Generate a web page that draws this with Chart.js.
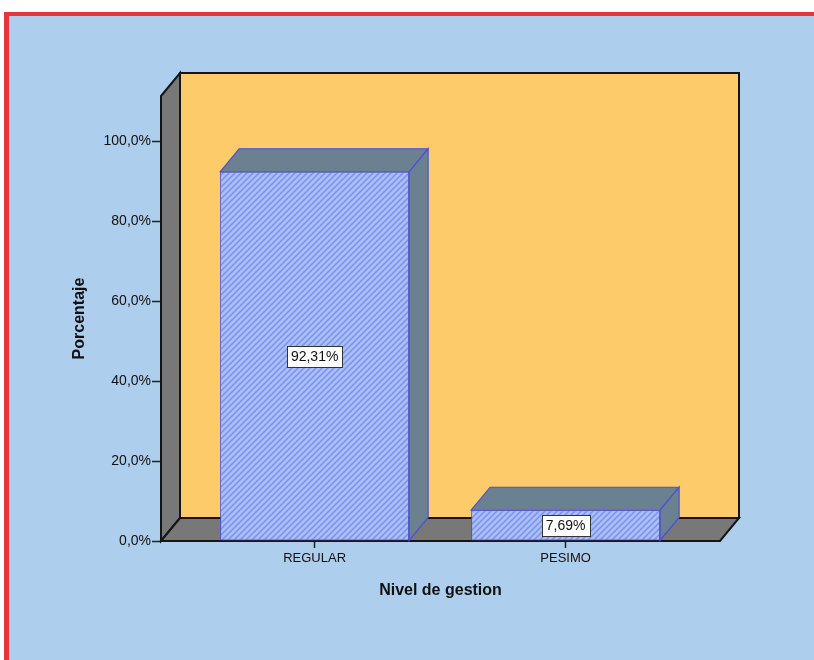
<!DOCTYPE html>
<html>
<head>
<meta charset="utf-8">
<script src="https://cdn.jsdelivr.net/npm/chart.js@4.4.1/dist/chart.umd.min.js"></script>
<style>
  html, body { margin: 0; padding: 0; background: #fff; }
  #wrap { width: 814px; height: 660px; }
</style>
</head>
<body>
<div id="wrap"><canvas id="nivelChart" width="814" height="660"></canvas></div>
<script>
const categories = ['REGULAR', 'PESIMO'];
const porcentajes = [92.31, 7.69];
const yTickValues = [0, 20, 40, 60, 80, 100];

// 3d depth of walls and bars (px)
const DX = 19, DY = -23;
const FONT = '"Liberation Sans", Arial, sans-serif';

const fmtPct = (v, d) => v.toFixed(d).replace('.', ',') + '%';

// hatch pattern for bar fronts
const hatch = (() => {
    const c = document.createElement('canvas');
    c.width = 6; c.height = 6;
    const g = c.getContext('2d');
    g.fillStyle = '#aabff5';
    g.fillRect(0, 0, 6, 6);
    g.strokeStyle = '#7b90ee';
    g.lineWidth = 1.5;
    g.beginPath();
    g.moveTo(-1, 7); g.lineTo(7, -1);
    g.moveTo(-4, 4); g.lineTo(4, -4);
    g.moveTo(2, 10); g.lineTo(10, 2);
    g.stroke();
    return g.createPattern(c, 'repeat');
})();

function poly(ctx, pts, fill, stroke, lw) {
    ctx.beginPath();
    ctx.moveTo(pts[0][0], pts[0][1]);
    for (let i = 1; i < pts.length; i++) ctx.lineTo(pts[i][0], pts[i][1]);
    ctx.closePath();
    ctx.fillStyle = fill;
    ctx.fill();
    if (stroke) {
        ctx.strokeStyle = stroke;
        ctx.lineWidth = lw;
        ctx.stroke();
    }
}

const backgroundPlugin = {
    id: 'bg',
    beforeDraw(chart) {
        const ctx = chart.ctx;
        ctx.save();
        ctx.fillStyle = '#ffffff';
        ctx.fillRect(0, 0, chart.width, chart.height);
        ctx.fillStyle = '#e8343e';
        ctx.fillRect(4, 12, chart.width, chart.height);
        ctx.fillStyle = '#adcfed';
        ctx.fillRect(9, 16, chart.width, chart.height);
        ctx.restore();
    }
};

const wallsPlugin = {
    id: 'walls',
    beforeDatasetsDraw(chart) {
        const ctx = chart.ctx;
        const { left, right, top, bottom } = chart.chartArea;
        ctx.save();
        ctx.lineJoin = 'miter';
        // back wall
        poly(ctx, [[left + DX, top + DY], [right + DX, top + DY], [right + DX, bottom + DY], [left + DX, bottom + DY]], '#fdcb6a', '#151515', 2);
        // left wall
        poly(ctx, [[left, top], [left + DX, top + DY], [left + DX, bottom + DY], [left, bottom]], '#787878', '#151515', 2);
        // floor
        poly(ctx, [[left, bottom], [left + DX, bottom + DY], [right + DX, bottom + DY], [right, bottom]], '#787878', '#151515', 2);
        ctx.restore();
    },
    afterDatasetsDraw(chart) {
        const ctx = chart.ctx;
        const meta = chart.getDatasetMeta(0);
        ctx.save();
        meta.data.forEach(bar => {
            const { x, y, base, width } = bar.getProps(['x', 'y', 'base', 'width'], true);
            const x0 = x - width / 2, x1 = x + width / 2;
            // top face
            poly(ctx, [[x0, y], [x0 + DX, y + DY], [x1 + DX, y + DY], [x1, y]], '#6b8192', '#4b50d8', 1.2);
            // side face
            poly(ctx, [[x1, y], [x1 + DX, y + DY], [x1 + DX, base + DY], [x1, base]], '#6b8192', '#4b50d8', 1.2);
        });
        ctx.restore();
    }
};

const labelsPlugin = {
    id: 'valueLabels',
    afterDraw(chart) {
        const ctx = chart.ctx;
        const meta = chart.getDatasetMeta(0);
        ctx.save();
        ctx.font = '14px ' + FONT;
        ctx.textAlign = 'center';
        ctx.textBaseline = 'middle';
        meta.data.forEach((bar, i) => {
            const { x, y, base } = bar.getProps(['x', 'y', 'base'], true);
            const txt = fmtPct(porcentajes[i], 2);
            const w = Math.round(ctx.measureText(txt).width + 8);
            const h = 21;
            const cy = (y + base) / 2;
            const bx = Math.round(x - w / 2) + 0.5, by = Math.round(cy - h / 2) + 0.5;
            ctx.fillStyle = '#ffffff';
            ctx.fillRect(bx, by, w, h);
            ctx.strokeStyle = '#333333';
            ctx.lineWidth = 1;
            ctx.strokeRect(bx, by, w, h);
            ctx.fillStyle = '#111111';
            ctx.fillText(txt, x, cy + 1);
        });
        ctx.restore();
    }
};

new Chart(document.getElementById('nivelChart').getContext('2d'), {
    type: 'bar',
    data: {
        datasets: [{
            data: porcentajes.map((v, i) => ({ x: i, y: v })),
            backgroundColor: hatch,
            borderColor: '#4b50d8',
            borderWidth: 1,
            borderSkipped: false,
            categoryPercentage: 1,
            barPercentage: 0.753
        }]
    },
    options: {
        responsive: false,
        animation: false,
        devicePixelRatio: 1,
        layout: { padding: { top: 96, right: 94, left: 0, bottom: 0 } },
        plugins: {
            legend: { display: false },
            tooltip: { enabled: false }
        },
        scales: {
            x: {
                type: 'linear',
                min: -0.612,
                max: 1.615,
                offset: false,
                afterBuildTicks: scale => {
                    scale.ticks = categories.map((c, i) => ({ value: i }));
                },
                afterFit: scale => { scale.height = 119; },
                border: { display: false },
                grid: { offset: false, drawOnChartArea: false, drawTicks: true, tickLength: 7, tickWidth: 1.5, color: '#222' },
                ticks: {
                    callback: v => categories[v],
                    color: '#111',
                    padding: 3,
                    maxRotation: 0,
                    autoSkip: false,
                    font: { family: FONT, size: 13 }
                },
                title: {
                    display: true,
                    text: 'Nivel de gestion',
                    color: '#111',
                    font: { family: FONT, size: 16, weight: 'bold' },
                    padding: { top: 0, bottom: 60 }
                }
            },
            y: {
                min: 0,
                max: 111.25,
                afterBuildTicks: scale => {
                    scale.ticks = yTickValues.map(v => ({ value: v }));
                },
                afterFit: scale => { scale.width = 161; },
                border: { display: false },
                grid: { drawOnChartArea: false, drawTicks: true, tickLength: 9, tickWidth: 1.5, color: '#222' },
                ticks: {
                    callback: v => fmtPct(v, 1),
                    color: '#111',
                    padding: 1,
                    font: { family: FONT, size: 14 }
                },
                title: {
                    display: true,
                    text: 'Porcentaje',
                    color: '#111',
                    font: { family: FONT, size: 16, weight: 'bold' },
                    padding: { top: 70, bottom: 0 }
                }
            }
        }
    },
    plugins: [backgroundPlugin, wallsPlugin, labelsPlugin]
});
</script>
</body>
</html>
